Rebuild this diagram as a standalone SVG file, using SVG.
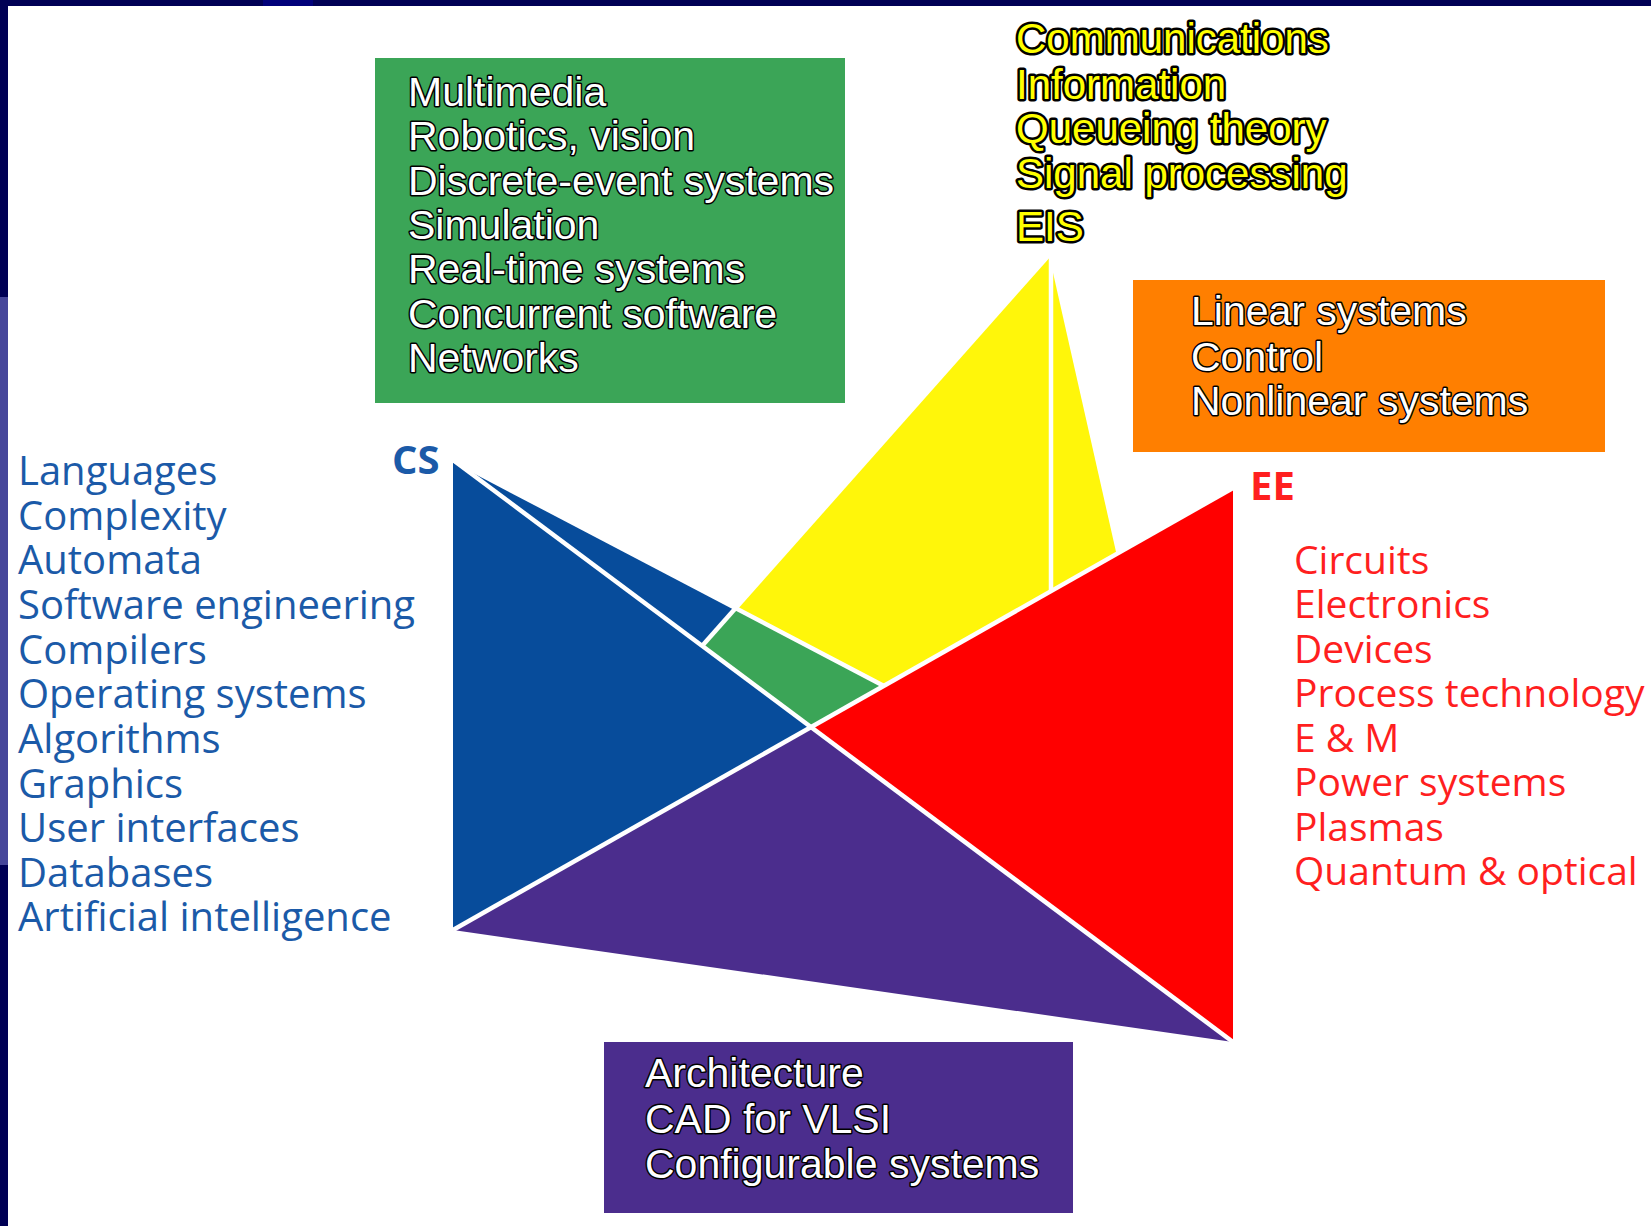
<svg xmlns="http://www.w3.org/2000/svg" width="1651" height="1226" viewBox="0 0 1651 1226">
<style>
.outl{font-family:"Liberation Sans",Arial,sans-serif;font-size:41px;fill:#ffffff;stroke:#000000;stroke-width:3px;paint-order:stroke;stroke-linejoin:round}
.eis{font-family:"Liberation Sans",Arial,sans-serif;font-size:42px;fill:#ffff00;stroke:#000000;stroke-width:5px;paint-order:stroke;stroke-linejoin:round}
.cs{font-family:"Open Sans","Noto Sans",sans-serif;font-size:40px;fill:#1b5aa8}
.ee{font-family:"Open Sans","Noto Sans",sans-serif;font-size:39px;fill:#ff1f1f}
.head{font-weight:bold;font-size:40px}
.gap{stroke:#ffffff;stroke-width:4.5px;fill:none;stroke-linecap:butt}
</style>
<rect x="0" y="0" width="1651" height="1226" fill="#ffffff"/>
<g id="frame">
<rect x="0" y="0" width="1651" height="6" fill="#000055"/>
<rect x="263" y="0" width="50" height="6" fill="#00007a"/>
<rect x="0" y="0" width="8" height="1226" fill="#000055"/>
<rect x="0" y="297" width="8" height="568" fill="#46469a"/>
</g>
<g id="cs-region"><polygon points="453,460 735,608 702,646 811,727 453,930" fill="#074c9b"/></g>
<g id="overlap-region"><polygon points="735,608 884,686 811,727 702,646" fill="#3ba557"/></g>
<g id="eis-region"><polygon points="1049,255 1116.5,554 884,686 735,608" fill="#fff60a"/></g>
<g id="ee-region"><polygon points="1233,488 1233,1042 811,727" fill="#ff0000"/></g>
<g id="arch-region"><polygon points="453,930 811,727 1233,1042" fill="#4b2d8d"/></g>
<g id="connectors">
<line class="gap" x1="453" y1="460" x2="1233" y2="1042"/>
<line class="gap" x1="453" y1="930" x2="1233" y2="488"/>
<line class="gap" x1="453" y1="460" x2="884" y2="686"/>
<line class="gap" x1="1049" y1="255" x2="702" y2="646"/>
<line class="gap" x1="1051" y1="250" x2="1051" y2="591"/>
</g>
<g id="green-box">
<rect x="375" y="58" width="470" height="345" fill="#3ba557"/>
<text class="outl" x="408" y="106">Multimedia</text>
<text class="outl" x="408" y="150">Robotics, vision</text>
<text class="outl" x="408" y="195">Discrete-event systems</text>
<text class="outl" x="408" y="239">Simulation</text>
<text class="outl" x="408" y="283">Real-time systems</text>
<text class="outl" x="408" y="328">Concurrent software</text>
<text class="outl" x="408" y="372">Networks</text>
</g>
<g id="eis-list">
<text class="eis" x="1016" y="53">Communications</text>
<text class="eis" x="1016" y="99">Information</text>
<text class="eis" x="1016" y="143">Queueing theory</text>
<text class="eis" x="1016" y="188">Signal processing</text>
<text class="eis" x="1016" y="241">EIS</text>
</g>
<g id="orange-box">
<rect x="1133" y="280" width="472" height="172" fill="#ff7f00"/>
<text class="outl" x="1191" y="325">Linear systems</text>
<text class="outl" x="1191" y="371">Control</text>
<text class="outl" x="1191" y="415">Nonlinear systems</text>
</g>
<g id="purple-box">
<rect x="604" y="1042" width="469" height="171" fill="#4b2d8d"/>
<text class="outl" x="645" y="1087">Architecture</text>
<text class="outl" x="645" y="1133">CAD for VLSI</text>
<text class="outl" x="645" y="1178">Configurable systems</text>
</g>
<g id="cs-label"><text class="cs head" x="392" y="474">CS</text></g>
<g id="ee-label"><text class="ee head" x="1250" y="500">EE</text></g>
<g id="cs-list">
<text class="cs" x="18" y="485">Languages</text>
<text class="cs" x="18" y="530">Complexity</text>
<text class="cs" x="18" y="574">Automata</text>
<text class="cs" x="18" y="619">Software engineering</text>
<text class="cs" x="18" y="664">Compilers</text>
<text class="cs" x="18" y="708">Operating systems</text>
<text class="cs" x="18" y="753">Algorithms</text>
<text class="cs" x="18" y="798">Graphics</text>
<text class="cs" x="18" y="842">User interfaces</text>
<text class="cs" x="18" y="887">Databases</text>
<text class="cs" x="18" y="931">Artificial intelligence</text>
</g>
<g id="ee-list">
<text class="ee" x="1294" y="574">Circuits</text>
<text class="ee" x="1294" y="618">Electronics</text>
<text class="ee" x="1294" y="663">Devices</text>
<text class="ee" x="1294" y="707">Process technology</text>
<text class="ee" x="1294" y="752">E &amp; M</text>
<text class="ee" x="1294" y="796">Power systems</text>
<text class="ee" x="1294" y="841">Plasmas</text>
<text class="ee" x="1294" y="885">Quantum &amp; optical</text>
</g>
</svg>
